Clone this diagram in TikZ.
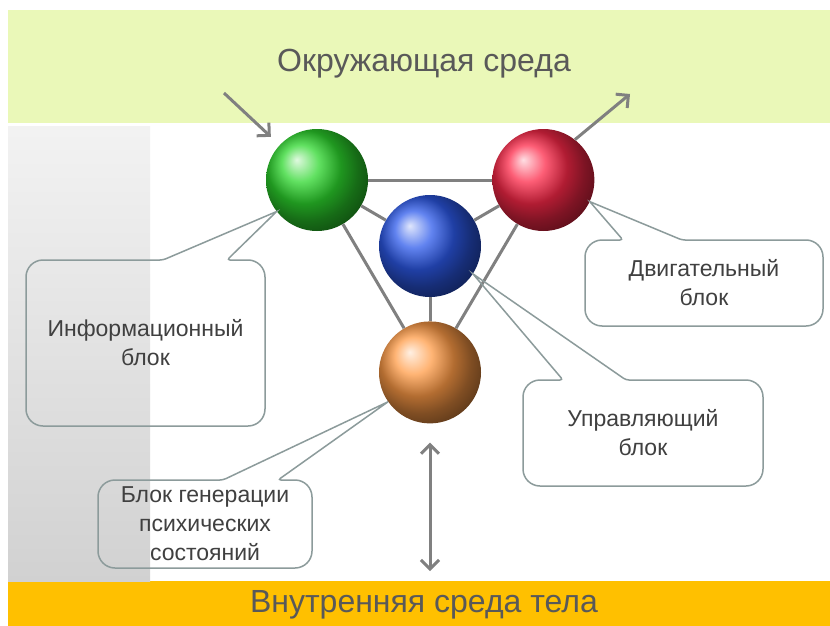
\documentclass[tikz,border=0pt]{standalone}
\usepackage{fontspec}
\setmainfont{Liberation Sans}
\usetikzlibrary{positioning, arrows.meta}

\definecolor{envgreen}{RGB}{234,248,184}
\definecolor{bodyamber}{RGB}{255,192,0}
\definecolor{linkgray}{RGB}{128,128,128}
\definecolor{boxgray}{RGB}{140,155,155}
\definecolor{textgray}{RGB}{64,64,64}
\definecolor{titlegray}{RGB}{89,89,89}

\begin{document}
\begin{tikzpicture}[x=1pt, y=-1pt,
    sphere/.style = {circle, inner sep=0pt, minimum size=102pt},
    link/.style = {draw=linkgray, line width=3pt},
    note/.style = {align=center, text=textgray, inner sep=0pt, outer sep=0pt,
        font=\fontsize{23}{29}\selectfont},
    bubble/.style = {draw=boxgray, line width=1.5pt, rounded corners=17pt},
    title/.style = {text=titlegray, font=\fontsize{32}{36}\selectfont, anchor=base},
    >={Straight Barb[length=9pt, width=18pt]}]
    \useasboundingbox (0,0) rectangle (830,626);
    \fill[white] (0,0) rectangle (830,626);
    \fill[envgreen] (8,10) rectangle (830,123);
    \fill[bodyamber] (8,581) rectangle (830,626);
    \shade[top color=black!5, bottom color=black!18] (8,126) rectangle (150,581);

    \node[title] (envtitle) at (424,72) {Окружающая среда};
    \node[title] (bodytitle) at (424,612) {Внутренняя среда тела};

    \node[sphere, ball color={rgb,255:red,45;green,215;blue,45}] (inf) at (317,180) {};
    \node[sphere, ball color={rgb,255:red,252;green,40;blue,72}] (mot) [right=124pt of inf] {};
    \node[sphere, ball color={rgb,255:red,45;green,90;blue,235}] (ctl) at (430,246) {};
    \node[sphere, ball color={rgb,255:red,255;green,155;blue,70}] (gen) [below=24pt of ctl] {};

    \draw[link] (inf) -- (mot);
    \draw[link] (inf) -- (ctl);
    \draw[link] (mot) -- (ctl);
    \draw[link] (inf) -- (gen);
    \draw[link] (mot) -- (gen);
    \draw[link] (ctl) -- (gen);

    \coordinate (envin) at (224,93);
    \coordinate (envout) at (630,94);
    \coordinate (body) at (430,571);
    \draw[link, ->, shorten >=12pt] (envin) -- (inf);
    \draw[link, ->] (mot.52) -- (envout);
    \draw[link, <->, shorten <=19pt] (gen) -- (body);

    \node[note, minimum width=239pt, minimum height=166pt] (infnote) at (145.5,343) {Информационный\\блок};
    \node[note, minimum width=238pt, minimum height=86pt] (motnote) at (704,283) {Двигательный\\блок};
    \node[note, minimum width=240pt, minimum height=106pt] (ctlnote) at (643,433) {Управляющий\\блок};
    \node[note, minimum width=214pt, minimum height=88pt] (gennote) at (205,524) {Блок генерации\\психических\\состояний};

    \draw[bubble] (infnote.west) -- (infnote.north west) [rounded corners=3pt] -- ([xshift=137pt]infnote.north west)
        [sharp corners] -- (inf.218) [rounded corners=3pt] -- ([xshift=201pt]infnote.north west)
        [rounded corners=17pt] -- (infnote.north east) -- (infnote.south east) -- (infnote.south west) -- cycle;
    \draw[bubble] (motnote.west) -- (motnote.north west) [rounded corners=3pt] -- ([xshift=38pt]motnote.north west)
        [sharp corners] -- (mot.-25) [rounded corners=3pt] -- ([xshift=97pt]motnote.north west)
        [rounded corners=17pt] -- (motnote.north east) -- (motnote.south east) -- (motnote.south west) -- cycle;
    \draw[bubble] (ctlnote.west) -- (ctlnote.north west) [rounded corners=3pt] -- ([xshift=40pt]ctlnote.north west)
        [sharp corners] -- (ctl.-33) [rounded corners=3pt] -- ([xshift=103pt]ctlnote.north west)
        [rounded corners=17pt] -- (ctlnote.north east) -- (ctlnote.south east) -- (ctlnote.south west) -- cycle;
    \draw[bubble] (gennote.west) -- (gennote.north west) [rounded corners=3pt] -- ([xshift=125pt]gennote.north west)
        [sharp corners] -- (gen.215) [rounded corners=3pt] -- ([xshift=180pt]gennote.north west)
        [rounded corners=17pt] -- (gennote.north east) -- (gennote.south east) -- (gennote.south west) -- cycle;
\end{tikzpicture}
\end{document}
